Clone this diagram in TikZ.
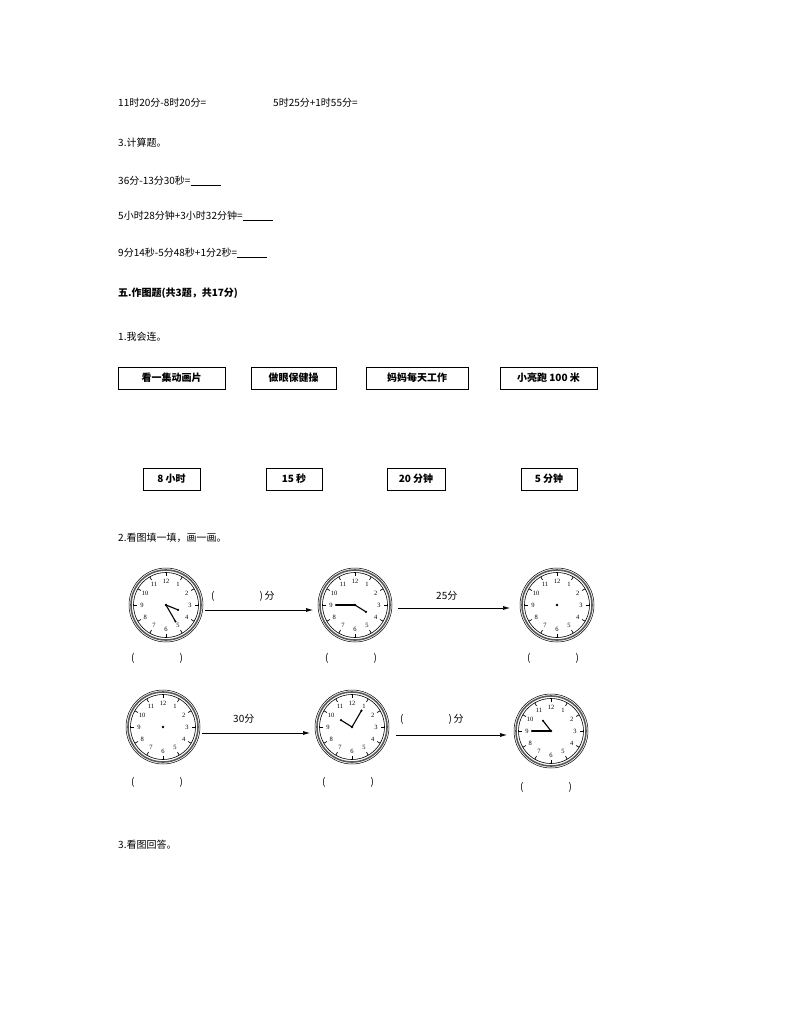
\documentclass[tikz,border=0pt]{standalone}
\usepackage{fontspec}
\setmainfont{Liberation Serif}
\newfontfamily\cjk{Noto Sans CJK SC}
\usetikzlibrary{arrows.meta}
\begin{document}
\begin{tikzpicture}[x=1pt,y=-1pt,
  txt/.style={anchor=west,font=\cjk\fontsize{10}{12}\selectfont,inner sep=0},
  bx/.style={draw,line width=0.9pt,font=\bfseries\cjk\fontsize{10}{12}\selectfont,minimum height=22pt,inner xsep=5pt},
  clk/.style={circle,minimum size=72pt,inner sep=0},
  arr/.style={-{Latex[length=7pt,width=4pt]},line width=0.7pt},
  hand/.style={line width=1.1pt}]
\useasboundingbox (0,0) rectangle (794,1028);
\node[txt] (l1) at (118,103) {11时20分-8时20分=};
\node[txt] (l1b) at (273,103) {5时25分+1时55分=};
\node[txt] (l2) at (118,143) {3.计算题。};
\node[txt] (l3) at (118,181) {36分-13分30秒=\underline{\hspace{30pt}}};
\node[txt] (l4) at (118,216) {5小时28分钟+3小时32分钟=\underline{\hspace{30pt}}};
\node[txt] (l5) at (118,253) {9分14秒-5分48秒+1分2秒=\underline{\hspace{30pt}}};
\node[txt,font=\cjk\bfseries\fontsize{10}{12}\selectfont] (l6) at (118,293) {五.作图题(共3题，共17分)};
\node[txt] (l7) at (118,337) {1.我会连。};
\node[bx,minimum width=107pt] (a1) at (171.5,378) {看一集动画片};
\node[bx,minimum width=85pt] (a2) at (293.5,378) {做眼保健操};
\node[bx,minimum width=102pt] (a3) at (417,378) {妈妈每天工作};
\node[bx,minimum width=97pt] (a4) at (548.5,378) {小亮跑 100 米};
\node[bx,minimum width=57pt] (b1) at (171.5,479) {8 小时};
\node[bx,minimum width=56pt] (b2) at (294,479) {15 秒};
\node[bx,minimum width=58pt] (b3) at (416,479) {20 分钟};
\node[bx,minimum width=56pt] (b4) at (549,479) {5 分钟};
\node[txt] (l8) at (118,538) {2.看图填一填，画一画。};
\node[txt] (l9) at (118,845) {3.看图回答。};
\newcommand{\myclock}[4]{%
 \node[clk] (#1) at (#2,#3) {};
 \begin{scope}[shift={(#2,#3)}]
  \draw[line width=1.6pt,gray!70!black] (0,0) circle (35);
  \draw[line width=0.6pt] (0,0) circle (32.5);
  \draw[line width=0.5pt] (0,0) circle (37);
  \foreach \i in {1,...,12}{
    \draw[line width=0.7pt] ({32.5*sin(30*\i)},{-32.5*cos(30*\i)}) -- ({29*sin(30*\i)},{-29*cos(30*\i)});
    \node[font=\fontsize{6.5}{7}\selectfont,inner sep=0] at ({24*sin(30*\i)},{-24*cos(30*\i)}) {\i};}
  \fill (0,0) circle (1.3);
  #4
 \end{scope}}
\newcommand{\hands}[2]{\draw[hand] (0,0) -- ({13*sin(#1)},{-13*cos(#1)}); \fill ({13*sin(#1)},{-13*cos(#1)}) circle(1.2);
 \draw[hand] (0,0) -- ({19*sin(#2)},{-19*cos(#2)}); \fill ({19*sin(#2)},{-19*cos(#2)}) circle(1.2);}
\myclock{c1}{166}{605}{\hands{112}{150}}
\myclock{c2}{355}{605}{\hands{122}{270}}
\myclock{c3}{557}{605}{}
\myclock{c4}{163}{727}{}
\myclock{c5}{352}{727}{\hands{302}{30}}
\myclock{c6}{551}{731}{\hands{322}{270}}
\draw[arr] (c1.east |- 0,610) ++(3,0) coordinate (s1) -- (313,610) coordinate (e1);
\draw[arr] (c2.east |- 0,608) ++(7,0) -- (510,608);
\draw[arr] (c4.east |- 0,733) ++(3,0) -- (310,733);
\draw[arr] (c5.east |- 0,735) ++(8,0) -- (507,735);
\node[txt] at (211,596) {(\hspace{45pt})\,分};
\node[txt] at (436,596) {25分};
\node[txt] at (233,719) {30分};
\node[txt] at (400,719) {(\hspace{45pt})\,分};
\foreach \x/\y in {131/658,325/658,527/658,131/782,322/782,520/787}
  \node[txt] at (\x,\y) {(\hspace{45pt})};
\end{tikzpicture}
\end{document}
